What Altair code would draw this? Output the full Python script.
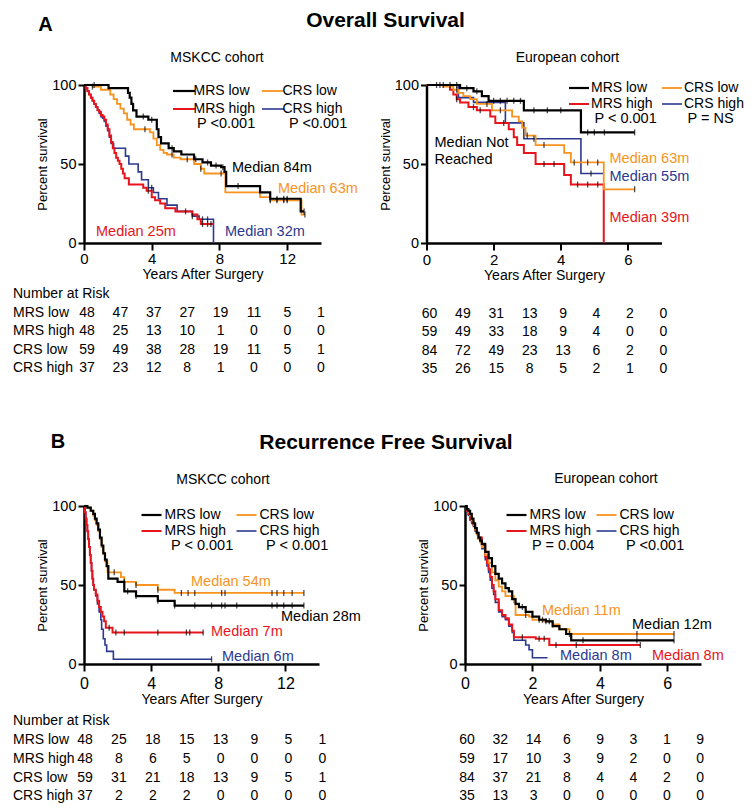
import altair as alt
import pandas as pd

ORDER = ["MRS low", "MRS high", "CRS low", "CRS high"]
DRAW_ORDER = ["CRS high", "MRS high", "CRS low", "MRS low"]
COLORS = ["#000000", "#E8141B", "#F7931E", "#2B3990"]
WIDTHS = [2.2, 1.6, 1.6, 1.6]
FONT = "Liberation Sans"

# ---------------- Overall survival, MSKCC cohort ----------------
os_msk_mrs_low_t = [0, 1.45, 2.6, 2.7, 2.8, 2.9, 3.1, 3.8, 4.3, 4.4, 4.55, 5.0, 5.3, 5.75, 6.5, 7.0, 7.5, 8.1, 8.3, 8.4, 10.4, 11.0, 12.8, 13.0]
os_msk_mrs_low_s = [100, 98, 95, 92, 88, 84, 80, 78, 72, 67, 63, 60, 58, 56, 53, 51, 49, 48, 45, 36, 32, 28, 20, 20]
os_msk_crs_low_t = [0, 0.5, 1.0, 1.55, 1.75, 1.95, 2.15, 2.35, 2.55, 2.75, 2.95, 3.9, 4.1, 4.3, 4.5, 4.7, 4.9, 5.3, 5.7, 6.5, 6.9, 7.1, 8.35, 10.4, 11.0, 12.85, 13.05]
os_msk_crs_low_s = [100, 99, 97, 94, 91, 88, 85, 82, 78, 75, 72, 70, 66, 62, 59, 57, 56, 54, 53, 50, 47, 44, 32, 29, 27, 18, 18]
os_msk_mrs_high_t = [0, 0.1, 0.2, 0.3, 0.4, 0.5, 0.6, 0.7, 0.8, 0.9, 1.0, 1.1, 1.2, 1.3, 1.4, 1.5, 1.6, 1.7, 1.8, 1.9, 2.0, 2.1, 2.2, 2.3, 2.4, 2.65, 3.5, 3.7, 4.0, 4.2, 4.5, 4.8, 5.4, 6.4, 6.7, 6.9, 7.65]
os_msk_mrs_high_s = [100, 98, 96, 94, 92, 90, 88, 86, 84, 83, 81, 80, 78, 75, 72, 68, 64, 60, 57, 54, 52, 50, 47, 44, 41, 37, 35, 33, 29, 27, 25, 22, 20, 18, 15, 12, 12]
os_msk_crs_high_t = [0, 0.1, 0.2, 0.3, 0.4, 0.5, 0.6, 0.7, 0.8, 0.9, 1.0, 1.1, 1.2, 1.3, 1.4, 1.5, 1.6, 1.75, 2.45, 2.65, 3.2, 3.4, 3.8, 4.1, 4.4, 4.9, 5.5, 6.4, 6.8, 7.65]
os_msk_crs_high_s = [100, 98, 96, 94, 92, 90, 88, 86, 84, 82, 80, 79, 77, 74, 71, 67, 63, 60, 55, 50, 45, 40, 35, 32, 28, 24, 20, 17, 15, 0]
os_msk_cens = {
    "MRS low": [0.6, 3.5, 4.0, 5.2, 6.6, 7.3, 7.8, 8.2, 9.1, 11.0, 11.4, 11.8, 12.0, 13.0],
    "CRS low": [0.5, 3.6, 5.2, 6.1, 6.9, 8.1, 11.0, 11.4, 11.8, 12.0, 13.05],
    "MRS high": [3.8, 6.0, 7.0, 7.3, 7.5],
    "CRS high": [4.0, 6.4, 7.0, 7.3],
}

# ---------------- Overall survival, European cohort ----------------
os_eu_mrs_low_t = [0, 1.0, 1.4, 1.65, 1.85, 2.9, 4.6, 6.2]
os_eu_mrs_low_s = [100, 98, 96, 93, 90, 84, 70, 70]
os_eu_crs_low_t = [0, 0.5, 0.8, 0.95, 1.1, 1.3, 1.5, 1.95, 2.55, 2.75, 2.85, 2.95, 3.25, 4.1, 4.3, 5.28, 6.2]
os_eu_crs_low_s = [100, 99, 97, 95, 93, 91, 88, 84, 80, 77, 73, 68, 62, 57, 51, 34, 34]
os_eu_mrs_high_t = [0, 0.7, 0.8, 0.9, 1.0, 1.25, 1.5, 1.9, 2.05, 2.45, 2.6, 2.7, 2.9, 3.25, 4.1, 4.3, 5.28]
os_eu_mrs_high_s = [100, 97, 94, 91, 89, 86, 84, 80, 76, 72, 67, 62, 57, 50, 43, 37, 0]
os_eu_crs_high_t = [0, 0.95, 1.4, 2.35, 2.9, 4.6, 5.28]
os_eu_crs_high_s = [100, 92, 89, 76, 66, 44, 44]
os_eu_cens = {
    "MRS low": [0.3, 0.5, 0.7, 0.9, 1.2, 1.5, 2.0, 2.2, 2.4, 2.6, 2.8, 3.2, 3.6, 4.0, 4.8, 5.0, 5.3, 6.2],
    "CRS low": [0.4, 0.9, 1.8, 2.2, 3.0, 3.5, 4.4, 4.8, 5.1, 6.2],
    "MRS high": [0.9, 1.4, 1.6, 2.3, 3.5, 3.8, 4.5, 4.8, 5.1],
    "CRS high": [3.2, 4.9],
}

# ---------------- Recurrence free survival, MSKCC cohort ----------------
rfs_msk_mrs_low_t = [0, 0.2, 0.4, 0.55, 0.65, 0.75, 0.85, 0.95, 1.05, 1.15, 1.25, 1.35, 1.45, 2.0, 2.4, 3.1, 4.4, 5.4, 13.1]
rfs_msk_mrs_low_s = [100, 99, 97, 95, 92, 89, 85, 80, 75, 70, 66, 62, 54, 52, 46, 43, 40, 37, 37]
rfs_msk_crs_low_t = [0, 0.2, 0.4, 0.55, 0.65, 0.75, 0.85, 0.95, 1.05, 1.15, 1.25, 1.4, 2.2, 2.4, 3.1, 4.4, 5.4, 13.1]
rfs_msk_crs_low_s = [100, 99, 97, 94, 91, 88, 84, 79, 74, 70, 65, 58, 55, 52, 50, 47, 45, 45]
rfs_msk_mrs_high_t = [0, 0.05, 0.1, 0.15, 0.2, 0.25, 0.3, 0.35, 0.4, 0.45, 0.5, 0.55, 0.6, 0.7, 0.8, 0.9, 1.0, 1.1, 1.2, 1.3, 1.7, 7.1]
rfs_msk_mrs_high_s = [100, 96, 92, 88, 84, 79, 74, 69, 64, 59, 54, 50, 47, 44, 40, 36, 33, 30, 27, 23, 20, 20]
rfs_msk_crs_high_t = [0, 0.05, 0.1, 0.15, 0.2, 0.25, 0.3, 0.35, 0.4, 0.45, 0.5, 0.55, 0.6, 0.7, 0.8, 0.9, 1.0, 1.05, 1.15, 1.25, 1.35, 1.75, 7.6]
rfs_msk_crs_high_s = [100, 96, 92, 88, 84, 79, 74, 69, 64, 59, 54, 50, 47, 43, 38, 33, 28, 22, 16, 12, 8, 3, 3]
rfs_msk_cens = {
    "MRS low": [2.6, 3.1, 4.4, 5.4, 6.6, 7.6, 8.2, 8.4, 9.1, 11.2, 11.5, 11.9, 12.4, 13.1],
    "CRS low": [1.8, 2.4, 3.1, 4.4, 5.8, 6.2, 6.6, 8.2, 8.4, 11.2, 11.5, 11.9, 12.4, 13.1],
    "MRS high": [1.5, 1.9, 2.4, 4.4, 6.1, 6.3, 7.1],
    "CRS high": [7.6],
}

# ---------------- Recurrence free survival, European cohort ----------------
rfs_eu_mrs_low_t = [0, 0.05, 0.1, 0.15, 0.2, 0.25, 0.3, 0.35, 0.4, 0.45, 0.5, 0.6, 0.7, 0.8, 0.9, 1.0, 1.1, 1.2, 1.3, 1.4, 1.5, 1.6, 1.8, 2.0, 2.2, 2.4, 2.6, 2.8, 3.0, 3.15, 6.2]
rfs_eu_mrs_low_s = [100, 98, 97, 95, 92, 89, 86, 83, 80, 78, 76, 71, 67, 62, 57, 54, 51, 48, 46, 41, 38, 36, 33, 30, 28, 27, 24, 22, 19, 15, 15]
rfs_eu_crs_low_t = [0, 0.05, 0.1, 0.15, 0.2, 0.25, 0.3, 0.35, 0.4, 0.45, 0.5, 0.6, 0.7, 0.8, 0.9, 1.0, 1.1, 1.2, 1.45, 1.5, 1.9, 2.0, 2.3, 2.6, 2.8, 3.1, 6.2]
rfs_eu_crs_low_s = [100, 98, 96, 94, 91, 88, 85, 82, 79, 77, 74, 69, 64, 58, 53, 49, 46, 43, 39, 31, 30, 28, 27, 25, 22, 19, 19]
rfs_eu_mrs_high_t = [0, 0.05, 0.1, 0.15, 0.2, 0.25, 0.3, 0.35, 0.4, 0.5, 0.6, 0.65, 0.7, 0.75, 0.8, 0.85, 0.9, 1.0, 1.1, 1.2, 1.3, 1.4, 1.45, 2.1, 2.5, 5.2]
rfs_eu_mrs_high_s = [100, 97, 95, 92, 90, 88, 85, 83, 80, 75, 68, 64, 60, 55, 50, 46, 41, 34, 31, 29, 25, 21, 17, 16, 12, 12]
rfs_eu_crs_high_t = [0, 0.05, 0.1, 0.15, 0.2, 0.25, 0.3, 0.35, 0.4, 0.5, 0.6, 0.65, 0.7, 0.75, 0.8, 0.85, 0.9, 1.0, 1.1, 1.2, 1.3, 1.4, 1.45, 1.8, 1.9, 2.0, 2.45]
rfs_eu_crs_high_s = [100, 96, 94, 91, 89, 87, 84, 82, 79, 73, 66, 62, 58, 53, 48, 44, 39, 33, 30, 28, 24, 20, 15, 12, 9, 4, 4]
rfs_eu_cens = {
    "MRS low": [1.7, 2.3, 2.5, 3.5, 5.1, 6.2],
    "CRS low": [1.8, 2.2, 2.4, 2.6, 3.1, 5.1, 6.2],
    "MRS high": [1.7, 2.2, 2.35, 2.7, 3.3, 5.2],
    "CRS high": [],
}

# ---------------- Numbers at risk ----------------
ROW_LABELS = ["MRS low", "MRS high", "CRS low", "CRS high"]
risk_os_msk = [[48, 47, 37, 27, 19, 11, 5, 1], [48, 25, 13, 10, 1, 0, 0, 0], [59, 49, 38, 28, 19, 11, 5, 1], [37, 23, 12, 8, 1, 0, 0, 0]]
risk_os_eu = [[60, 49, 31, 13, 9, 4, 2, 0], [59, 49, 33, 18, 9, 4, 0, 0], [84, 72, 49, 23, 13, 6, 2, 0], [35, 26, 15, 8, 5, 2, 1, 0]]
risk_rfs_msk = [[48, 25, 18, 15, 13, 9, 5, 1], [48, 8, 6, 5, 0, 0, 0, 0], [59, 31, 21, 18, 13, 9, 5, 1], [37, 2, 2, 2, 0, 0, 0, 0]]
risk_rfs_eu = [[60, 32, 14, 6, 9, 3, 1, 9], [59, 17, 10, 3, 9, 2, 0, 0], [84, 37, 21, 8, 4, 4, 2, 0], [35, 13, 3, 0, 0, 0, 0, 0]]

DUMMY = pd.DataFrame({"k": [0]})
COLOR_OF = dict(zip(ORDER, COLORS))


def surv_at(ts, ss, x):
    v = ss[0]
    for ti, si in zip(ts, ss):
        if ti <= x:
            v = si
    return v


def label(text, px, py, color="black", size=14.5):
    return alt.Chart(DUMMY).mark_text(
        x=px, y=py, align="left", baseline="middle", fontSize=size, color=color, font=FONT
    ).encode(text=alt.value(text))


def make_legend(lx, ly, L, label_off, row_pad, col_pad):
    return alt.Legend(
        title=None, orient="none", direction="vertical", columns=2,
        legendX=lx, legendY=ly,
        symbolType="M-2,0H2", symbolSize=(L / 2) ** 2, symbolStrokeWidth=2,
        labelFontSize=14, labelFont=FONT, labelColor="black", labelLimit=0,
        labelOffset=label_off, rowPadding=row_pad, columnPadding=col_pad,
    )


def panel(curves, cens, xmax, xstep, width, title, title_dx, title_offset, legend, texts, xlab_size, xlab_pad):
    rows, crow = [], []
    for name in DRAW_ORDER:
        ts, ss = curves[name]
        for i, (ti, si) in enumerate(zip(ts, ss)):
            rows.append({"series": name, "t": ti, "s": si, "i": i})
        for c in cens[name]:
            crow.append({"t": c, "s": surv_at(ts, ss, c)})
    df = pd.DataFrame(rows)
    cdf = pd.DataFrame(crow)
    xs = alt.Scale(domain=[0, xmax], nice=False, zero=True)
    ys = alt.Scale(domain=[0, 100], nice=False)
    xaxis = alt.Axis(values=list(range(0, xmax + 1, xstep)), title="Years After Surgery", format="d",
                     labelFontSize=xlab_size, labelPadding=xlab_pad, tickSize=7, tickWidth=2,
                     domainWidth=2.5, titleFontSize=14, titleFontWeight="normal", titlePadding=1,
                     grid=False, labelFlush=False, labelOverlap=False)
    yaxis = alt.Axis(values=[0, 50, 100], title="Percent survival", titleFontSize=13,
                     titleFontWeight="normal", labelFontSize=14.5, tickSize=6, tickWidth=2,
                     domainWidth=2.5, titlePadding=2, grid=False, labelOverlap=False)
    color = alt.Color("series:N", scale=alt.Scale(domain=ORDER, range=COLORS), legend=legend)
    lines = alt.Chart(df).mark_line(interpolate="step-after").encode(
        x=alt.X("t:Q", scale=xs, axis=xaxis),
        y=alt.Y("s:Q", scale=ys, axis=yaxis),
        color=color,
        strokeWidth=alt.StrokeWidth("series:N", scale=alt.Scale(domain=ORDER, range=WIDTHS), legend=None),
        order="i:Q",
    )
    ticks = alt.Chart(cdf).mark_tick(orient="vertical", size=6, thickness=1.3, color="black").encode(
        x="t:Q", y="s:Q")
    layers = [lines, ticks] + [label(*t) for t in texts]
    return alt.layer(*layers).properties(
        width=width, height=158,
        title=alt.TitleParams(title, fontSize=14, fontWeight="normal", dx=title_dx, offset=title_offset,
                              anchor="middle", baseline="bottom", font=FONT, color="black"))


def risk_table(values, width, row_px, col_px, col_dx, label_px=None):
    nums, labs = [], [{"row": 0, "text": "Number at Risk"}]
    for r, (lab, vals) in enumerate(zip(ROW_LABELS, values), start=1):
        labs.append({"row": r, "text": lab})
        for c, v in enumerate(vals):
            nums.append({"row": r, "col": c, "text": str(v)})
    ysc = alt.Scale(domain=[-0.5, 4.5], reverse=True, nice=False, zero=False)
    xsc = alt.Scale(domain=[-col_dx / col_px, (width - col_dx) / col_px], nice=False, zero=False)
    n = alt.Chart(pd.DataFrame(nums)).mark_text(fontSize=14, font=FONT, color="black", align="center",
                                                baseline="middle").encode(
        x=alt.X("col:Q", scale=xsc, axis=None), y=alt.Y("row:Q", scale=ysc, axis=None), text="text:N")
    layers = [n]
    if label_px is not None:
        layers.append(alt.Chart(pd.DataFrame(labs)).mark_text(
            fontSize=14, font=FONT, color="black", align="left", baseline="middle", x=label_px).encode(
            y=alt.Y("row:Q", scale=ysc, axis=None), text="text:N"))
    return alt.layer(*layers).properties(width=width, height=5 * row_px)


def header(letter, title, width, height, lx, ly, tx, ty):
    a = alt.Chart(DUMMY).mark_text(x=lx, y=ly, align="center", baseline="alphabetic", fontSize=20,
                                   fontWeight="bold", font=FONT, color="black").encode(text=alt.value(letter))
    b = alt.Chart(DUMMY).mark_text(x=tx, y=ty, align="center", baseline="alphabetic", fontSize=21,
                                   fontWeight="bold", font=FONT, color="black").encode(text=alt.value(title))
    return alt.layer(a, b).properties(width=width, height=height)


def indep(c):
    return c.resolve_scale(color="independent", strokeWidth="independent").resolve_legend(
        color="independent", strokeWidth="independent")


AL = panel({"MRS low": (os_msk_mrs_low_t, os_msk_mrs_low_s), "CRS low": (os_msk_crs_low_t, os_msk_crs_low_s),
            "MRS high": (os_msk_mrs_high_t, os_msk_mrs_high_s), "CRS high": (os_msk_crs_high_t, os_msk_crs_high_s)},
           os_msk_cens, 14, 2, 237, "MSKCC cohort", 14.5, -2.4,
           make_legend(93, -1, 22, 2.5, 4, 3),
           [("P <0.001", 113, 39), ("P <0.001", 205, 39),
            ("Median 84m", 148, 83), ("Median 63m", 194, 104, COLOR_OF["CRS low"]),
            ("Median 25m", 12, 147, COLOR_OF["MRS high"]), ("Median 32m", 141, 147, COLOR_OF["CRS high"])],
           15, 1)
AR = panel({"MRS low": (os_eu_mrs_low_t, os_eu_mrs_low_s), "CRS low": (os_eu_crs_low_t, os_eu_crs_low_s),
            "MRS high": (os_eu_mrs_high_t, os_eu_mrs_high_s), "CRS high": (os_eu_crs_high_t, os_eu_crs_high_s)},
           os_eu_cens, 7, 1, 235, "European cohort", 23.5, -2.4,
           make_legend(145.5, -4, 20, 5, 2, 5),
           [("P < 0.001", 168, 34), ("P = NS", 261, 34),
            ("Median Not", 8, 58), ("Reached", 8, 75),
            ("Median 63m", 183, 74, COLOR_OF["CRS low"]), ("Median 55m", 183, 92, COLOR_OF["CRS high"]),
            ("Median 39m", 183, 133, COLOR_OF["MRS high"])],
           15, 2)
BL = panel({"MRS low": (rfs_msk_mrs_low_t, rfs_msk_mrs_low_s), "CRS low": (rfs_msk_crs_low_t, rfs_msk_crs_low_s),
            "MRS high": (rfs_msk_mrs_high_t, rfs_msk_mrs_high_s), "CRS high": (rfs_msk_crs_high_t, rfs_msk_crs_high_s)},
           rfs_msk_cens, 14, 2, 235, "MSKCC cohort", 21.5, -2.5,
           make_legend(60.5, 2, 20, 6, 2, 6),
           [("P < 0.001", 87, 40), ("P < 0.001", 182, 40),
            ("Median 54m", 107, 76, COLOR_OF["CRS low"]), ("Median 28m", 197, 111),
            ("Median 7m", 127, 126, COLOR_OF["MRS high"]), ("Median 6m", 138, 151, COLOR_OF["CRS high"])],
           16, 4)
BR = panel({"MRS low": (rfs_eu_mrs_low_t, rfs_eu_mrs_low_s), "CRS low": (rfs_eu_crs_low_t, rfs_eu_crs_low_s),
            "MRS high": (rfs_eu_mrs_high_t, rfs_eu_mrs_high_s), "CRS high": (rfs_eu_crs_high_t, rfs_eu_crs_high_s)},
           rfs_eu_cens, 7, 1, 236, "European cohort", 23, -1.5,
           make_legend(44.5, 2, 20, 6, 2, 1),
           [("P = 0.004", 67, 40), ("P <0.001", 161, 40),
            ("Median 11m", 77, 105, COLOR_OF["CRS low"]), ("Median 12m", 167, 119),
            ("Median 8m", 95, 150, COLOR_OF["CRS high"]), ("Median 8m", 187, 150, COLOR_OF["MRS high"])],
           16, 4)

TAL = risk_table(risk_os_msk, 237, 18.5, 33.4, 3, -71)
TAR = risk_table(risk_os_eu, 235, 18.5, 33.4, 3)
TBL = risk_table(risk_rfs_msk, 235, 18.75, 33.9, 1, -71)
TBR = risk_table(risk_rfs_eu, 236, 18.75, 33.3, 2)

HA = header("A", "Overall Survival", 450, 38.6, -38.5, 19, 301.5, 15)
HB = header("B", "Recurrence Free Survival", 450, 91.75, -26, 68.5, 302, 69.5)

rowA = indep(alt.hconcat(indep(alt.vconcat(AL, TAL, spacing=4)), indep(alt.vconcat(AR, TAR, spacing=4)), spacing=20.5))
rowB = indep(alt.hconcat(indep(alt.vconcat(BL, TBL, spacing=6)), indep(alt.vconcat(BR, TBR, spacing=6)), spacing=56))

chart = indep(alt.vconcat(HA, rowA, HB, rowB, spacing=0)).properties(
    padding={"left": 5, "top": 2, "right": 0, "bottom": 0}, background="white"
).configure(font=FONT).configure_view(stroke="transparent", strokeWidth=0).configure_axis(
    domainColor="black", tickColor="black", labelColor="black", titleColor="black", labelFont=FONT, titleFont=FONT
)

chart.save("out.html", embed_options={"renderer": "svg", "actions": False})
